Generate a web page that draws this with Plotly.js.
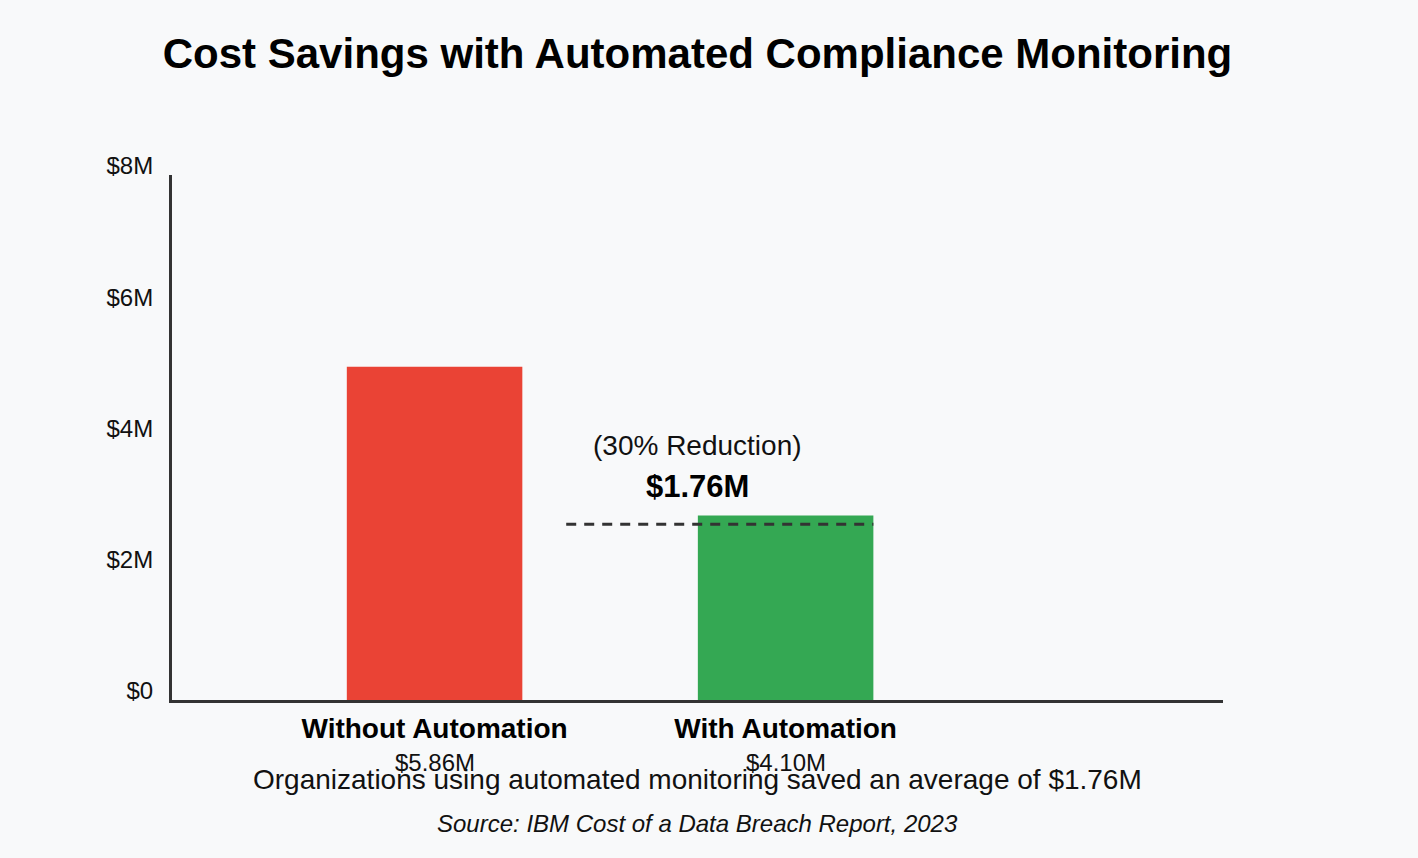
<!DOCTYPE html>
<html>
<head>
<meta charset="utf-8">
<script src="https://cdn.plot.ly/plotly-3.0.1.min.js"></script>
<style>
  html, body { margin: 0; padding: 0; background: #f8f9fa; }
  #chart { width: 1418px; height: 858px; }
</style>
</head>
<body>
<div id="chart"></div>
<script>
// bar heights as drawn in the picture (millions)
var categories = ['Without Automation', 'With Automation'];
var barHeights = [5.08, 2.81];
var costLabels = ['$5.86M', '$4.10M'];
var barColors = ['#ea4335', '#34a853'];
var yTicks = [0, 2, 4, 6, 8];
var yTickText = ['$0', '$2M', '$4M', '$6M', '$8M'];
var savingsLevel = 2.68;
var savingsX = [0.375, 1.25];

var fontFamily = 'Liberation Sans, Arial, sans-serif';

var bars = {
  x: [0, 1],
  y: barHeights,
  type: 'bar',
  width: 0.5,
  marker: { color: barColors },
  hoverinfo: 'skip',
  showlegend: false
};

var dashLine = {
  x: savingsX,
  y: [savingsLevel, savingsLevel],
  type: 'scatter',
  mode: 'lines',
  line: { color: '#333333', width: 3, dash: '10px,8px' },
  hoverinfo: 'skip',
  showlegend: false
};

var annotations = [];
costLabels.forEach(function (lbl, i) {
  annotations.push({
    x: i, y: 0, xref: 'x', yref: 'y',
    text: lbl, showarrow: false,
    yanchor: 'middle', yshift: -62,
    font: { family: fontFamily, size: 24, color: '#111111' }
  });
});
annotations.push({
  x: 0.5, xref: 'paper', y: 3.88, yref: 'y',
  text: '(30% Reduction)', showarrow: false,
  font: { family: fontFamily, size: 28, color: '#111111' }
});
annotations.push({
  x: 0.5, xref: 'paper', y: 3.25, yref: 'y',
  text: '<b>$1.76M</b>', showarrow: false,
  font: { family: fontFamily, size: 31, color: '#000000' }
});
annotations.push({
  x: 0.5, xref: 'paper', y: 0, yref: 'y', yshift: -79,
  text: 'Organizations using automated monitoring saved an average of $1.76M',
  showarrow: false,
  font: { family: fontFamily, size: 28, color: '#111111' }
});
annotations.push({
  x: 0.5, xref: 'paper', y: 0, yref: 'y', yshift: -123,
  text: '<i>Source: IBM Cost of a Data Breach Report, 2023</i>',
  showarrow: false,
  font: { family: fontFamily, size: 24, color: '#111111' }
});

var layout = {
  width: 1418,
  height: 858,
  paper_bgcolor: '#f8f9fa',
  plot_bgcolor: '#f8f9fa',
  margin: { l: 172, r: 195, t: 175, b: 158 },
  title: {
    text: '<b>Cost Savings with Automated Compliance Monitoring</b>',
    x: 0.5, xref: 'paper', xanchor: 'center',
    y: 1 - 53 / 858, yref: 'container', yanchor: 'middle',
    font: { family: fontFamily, size: 42, color: '#000000' }
  },
  xaxis: {
    range: [-0.748, 2.246],
    tickvals: [0, 1],
    ticktext: categories,
    tickfont: { family: fontFamily, size: 28, color: '#000000', weight: 'bold' },
    showgrid: false,
    zeroline: false,
    showline: true,
    linecolor: '#333333',
    linewidth: 3,
    ticks: '',
    ticklabelstandoff: 1,
    fixedrange: true
  },
  yaxis: {
    range: [0, 8],
    tickvals: yTicks,
    ticktext: yTickText,
    tickfont: { family: fontFamily, size: 24, color: '#111111' },
    showgrid: false,
    zeroline: false,
    showline: true,
    linecolor: '#333333',
    linewidth: 3,
    ticks: '',
    ticklabelstandoff: 11,
    ticklabelshift: -9,
    fixedrange: true
  },
  annotations: annotations
};

Plotly.newPlot('chart', [bars, dashLine], layout, { displayModeBar: false, staticPlot: true });
</script>
</body>
</html>
